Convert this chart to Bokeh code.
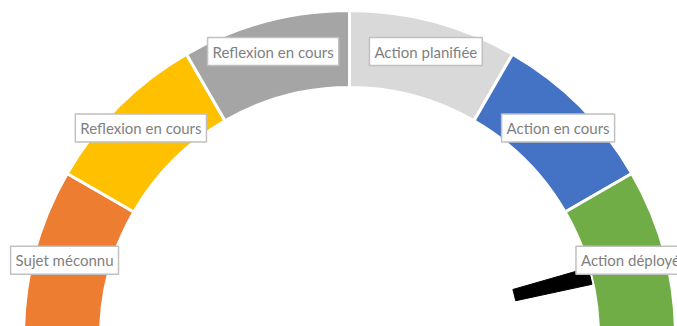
import math
from bokeh.plotting import figure
from bokeh.models import Range1d, ColumnDataSource
from bokeh.core.properties import value
from bokeh.embed import file_html
from bokeh.resources import INLINE

# ---- data ----
categories = ["Sujet méconnu", "Reflexion en cours", "Reflexion en cours",
              "Action planifiée", "Action en cours", "Action déployée"]
values = [1, 1, 1, 1, 1, 1]
colors = ["#ED7D31", "#FFC000", "#A5A5A5", "#D9D9D9", "#4472C4", "#70AD47"]
needle_value = 5.53      # position on the 0..6 scale
needle_width = 0.13      # width of the needle slice (same scale)

# ---- geometry (pixel units, centre of gauge at 0,0) ----
R_OUT, R_IN, R_LBL = 326, 249, 295
N_IN = 170

total = sum(values)
starts, ends, mids = [], [], []
acc = 0
for v in values:
    a0 = math.pi - math.pi * acc / total
    acc += v
    a1 = math.pi - math.pi * acc / total
    starts.append(a1)
    ends.append(a0)
    mids.append((a0 + a1) / 2)

src = ColumnDataSource(dict(
    cat=categories, start=starts, end=ends, color=colors,
    lx=[R_LBL * math.cos(m) for m in mids],
    ly=[R_LBL * math.sin(m) for m in mids],
))

p = figure(width=677, height=326, output_backend="svg", toolbar_location=None,
           x_range=Range1d(-349, 328), y_range=Range1d(10, 336),
           min_border=0, outline_line_color=None)
p.axis.visible = False
p.grid.visible = False
p.background_fill_color = "white"
p.border_fill_color = "white"

p.annular_wedge(x=0, y=0, inner_radius=R_IN, outer_radius=R_OUT,
                start_angle="start", end_angle="end", fill_color="color",
                line_color="white", line_width=3, source=src)

na0 = math.pi - math.pi * (needle_value - needle_width / 2) / total
na1 = math.pi - math.pi * (needle_value + needle_width / 2) / total
p.annular_wedge(x=[0], y=[0], inner_radius=N_IN, outer_radius=R_IN - 1,
                start_angle=[na1], end_angle=[na0], fill_color="black",
                line_color="black", line_width=1)

p.text(x="lx", y="ly", text="cat", source=src,
       text_font=value("Lato"), text_font_size="15px", text_color="#7f7f7f",
       text_align="center", text_baseline="middle",
       background_fill_color="white", border_line_color="#c0c0c0",
       border_line_width=1.5, padding=5)

open("out.html", "w").write(file_html(p, INLINE))
